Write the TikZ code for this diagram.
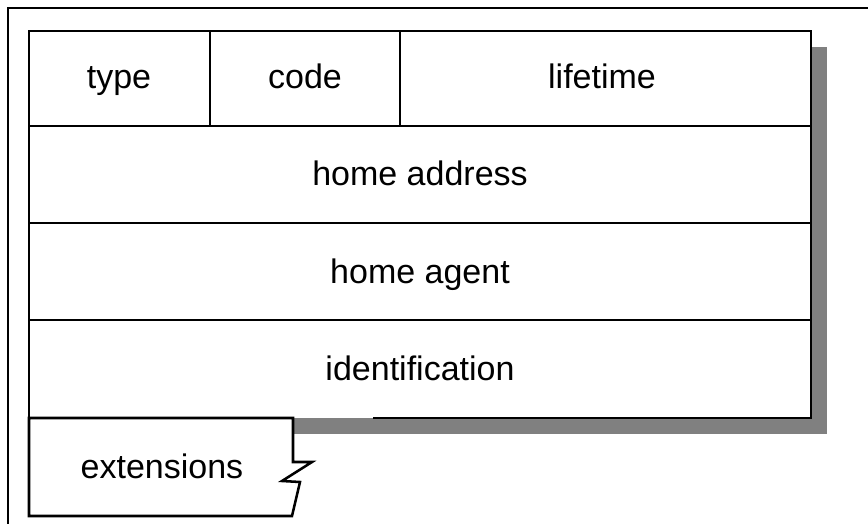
\documentclass[tikz,border=0pt]{standalone}
\usepackage{fontspec}
\setmainfont{Liberation Sans}
\definecolor{shadowgray}{RGB}{128,128,128}
\begin{document}
\begin{tikzpicture}[x=0.75pt,y=-0.75pt,
  box/.style={line width=1.9pt, line join=miter},
  frame/.style={line width=0.8pt},
  lbl/.style={anchor=base, inner sep=0pt, font=\fontsize{25.5}{30}\selectfont}]
\useasboundingbox (0,0) rectangle (868,524);
% outer frame (top and left only)
\draw[frame] (8,524) -- (8,8) -- (868,8);
% shadow
\fill[shadowgray] (45,47) rectangle (827,434);
% main box
\fill[white] (29,31) rectangle (811,418);
\draw[box] (373,418) -- (811,418) -- (811,31) -- (29,31) -- (29,418);
\draw[box] (29,126) -- (811,126);
\draw[box] (29,223) -- (811,223);
\draw[box] (29,320) -- (811,320);
\draw[box] (210,31) -- (210,126);
\draw[box] (400,31) -- (400,126);
% extensions box
\filldraw[box, fill=white] (29,418) -- (293,418) -- (293,462) -- (312,462) -- (282,481) -- (300,482) -- (292,516) -- (29,516) -- cycle;
% labels
\node[lbl] (type) at (119,89) {type};
\node[lbl] (code) at (305,89) {code};
\node[lbl] (lifetime) at (602,89) {lifetime};
\node[lbl] (homeaddr) at (420,186) {home address};
\node[lbl] (homeagent) at (420,283) {home agent};
\node[lbl] (ident) at (420,380) {identification};
\node[lbl] (ext) at (162,478) {extensions};
\end{tikzpicture}
\end{document}
